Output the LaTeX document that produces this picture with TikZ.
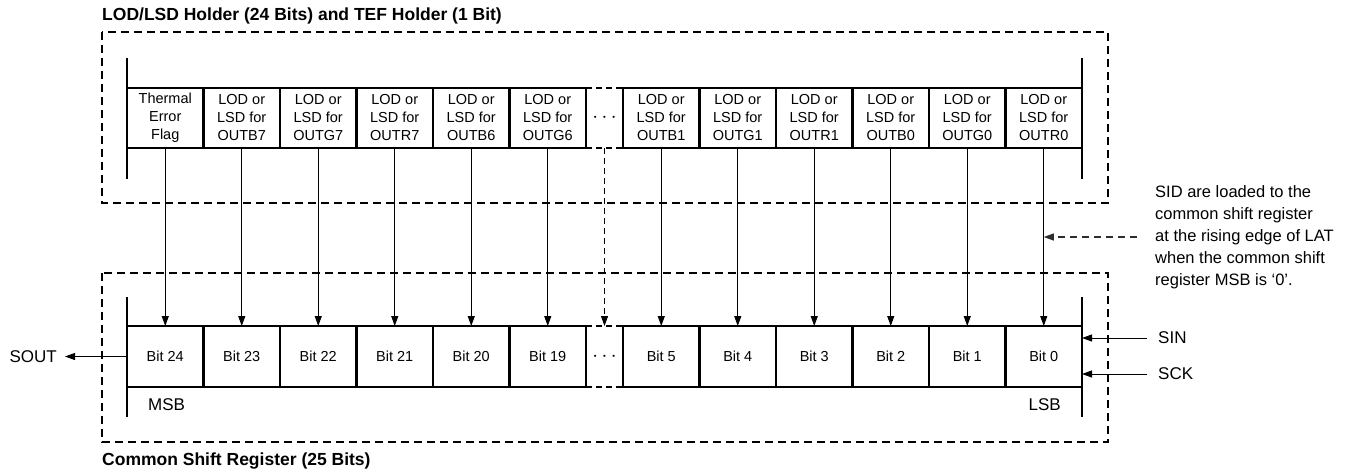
\documentclass[tikz,border=0pt]{standalone}
\usepackage{fontspec}
\setmainfont{Liberation Sans}
\usetikzlibrary{arrows.meta}

\tikzset{
  frame/.style={draw, line width=2pt, dash pattern=on 8pt off 5pt},
  cell/.style={draw, line width=2.2pt, inner sep=0pt, outer sep=0pt,
    minimum width=76.5pt, align=center},
  hcell/.style={cell, minimum height=60pt, font=\fontsize{14.5}{18}\selectfont},
  bcell/.style={cell, minimum height=61pt, font=\fontsize{14.5}{17}\selectfont},
  dotcell/.style={inner sep=0pt, outer sep=0pt, minimum width=37pt,
    font=\fontsize{21}{21}\selectfont},
  dotedge/.style={line width=2.2pt, dash pattern=on 6pt off 4pt},
  bar/.style={line width=1.2pt},
  link/.style={line width=1pt, -{Triangle[length=10pt,width=7pt]}},
  lbl/.style={inner sep=0pt, font=\fontsize{17}{20}\selectfont},
  title/.style={inner sep=0pt, anchor=west, font=\fontsize{17.5}{20}\bfseries\selectfont}
}

\begin{document}
\begin{tikzpicture}[x=1pt,y=-1pt]
\useasboundingbox (0,0) rectangle (1359,469);

% holder (top)
\node[title] (ttop) at (102,16) {LOD/LSD Holder (24 Bits) and TEF Holder (1 Bit)};
\draw[frame] (102,32) rectangle (1108,203);

\node[hcell] (h0) at (165.25,118) {Thermal\\Error\\Flag};
\foreach \s [count=\i] in {B7,G7,R7,B6,G6}
  \node[hcell] (h\i) at (165.25+76.5*\i,118) {LOD or\\LSD for\\OUT\s};
\node[dotcell, minimum height=60pt] (hd) at (604.5,118) {$\cdots$};
\foreach \s [count=\i from 6] in {B1,G1,R1,B0,G0,R0}
  \node[hcell] (h\i) at (661.25+76.5*\i-459,118) {LOD or\\LSD for\\OUT\s};
\draw[dotedge] (hd.north west) -- (hd.north east)
               (hd.south west) -- (hd.south east);
\draw[bar] ([yshift=30pt]h0.north west) -- ([yshift=-31pt]h0.south west);
\draw[bar] ([yshift=30pt]h11.north east) -- ([yshift=-31pt]h11.south east);

% shift register (bottom)
\draw[frame] (102,273) rectangle (1108,442);
\node[title] (tbot) at (102,461) {Common Shift Register (25 Bits)};

\foreach \i [evaluate=\i as \n using int(24-\i)] in {0,...,5}
  \node[bcell] (b\i) at (165.25+76.5*\i,356.5) {Bit \n};
\node[dotcell, minimum height=61pt] (bd) at (604.5,356.5) {$\cdots$};
\foreach \i [evaluate=\i as \n using int(11-\i)] in {6,...,11}
  \node[bcell] (b\i) at (661.25+76.5*\i-459,356.5) {Bit \n};
\draw[dotedge] (bd.north west) -- (bd.north east)
               (bd.south west) -- (bd.south east);
\draw[bar] ([yshift=29pt]b0.north west) -- ([yshift=-30pt]b0.south west);
\draw[bar] ([yshift=29pt]b11.north east) -- ([yshift=-30pt]b11.south east);
\node[lbl, anchor=west] (msb) at (148,405) {MSB};
\node[lbl, anchor=east] (lsb) at (1061,405) {LSB};

% transfer
\foreach \i in {0,...,11}
  \draw[link] (h\i) -- (b\i);
\draw[link, dash pattern=on 6pt off 4pt] (hd) -- (bd);

% signals
\node[lbl, anchor=east] (sout) at (57,356.5) {SOUT};
\draw[link] (b0.west) -- ([xshift=8pt]sout.east);
\node[lbl, anchor=west] (sin) at (1158,338) {SIN};
\draw[link] ([xshift=-11pt]sin.west) -- (sin.west -| b11.east);
\node[lbl, anchor=west] (sck) at (1158,374) {SCK};
\draw[link] ([xshift=-11pt]sck.west) -- (sck.west -| b11.east);

\node[lbl, anchor=west, align=left, font=\fontsize{16.5}{22}\selectfont]
  (note) at (1155,237) {SID are loaded to the\\common shift register\\at the rising edge of LAT\\when the common shift\\register MSB is ‘0’.};
\draw[link, line width=1.2pt, gray!35!black, dash pattern=on 7pt off 5pt]
  ([xshift=-18pt]note.west) -- (note.west -| h11);
\end{tikzpicture}
\end{document}
